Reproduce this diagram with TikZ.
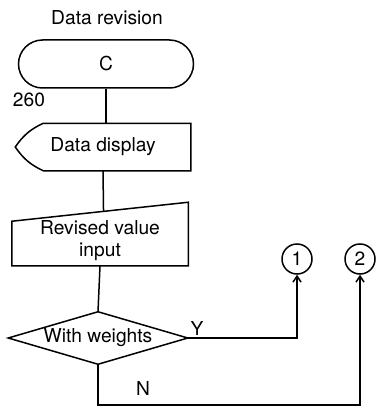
\documentclass[tikz,border=0pt]{standalone}
\usepackage{fontspec}
\setmainfont{TeX Gyre Heros}
\usetikzlibrary{arrows.meta, shapes.misc, calc}

\begin{document}
\begin{tikzpicture}[
  x=0.5pt, y=-0.5pt,
  font=\fontsize{9.6}{11}\selectfont,
  line width=0.75pt,
  terminal/.style={rounded rectangle, draw, minimum width=87.5pt,
                   minimum height=24pt, inner sep=0pt},
  box/.style={minimum width=87pt, inner sep=0pt, align=center},
  conn/.style={circle, draw, minimum size=15pt, inner sep=0pt},
  arrow/.style={-{Straight Barb[length=3pt,width=4pt]}},
]
  \useasboundingbox (0,0) rectangle (375,417);
  \node (title) at (107,18) {Data revision};
  \node[terminal] (term) at (106,64) {C};
  \node (num) at (29,100) {260};
  % display
  \node[box, minimum height=23pt] (disp) at (103,147) {Data display};
  \draw (disp.north east) -- (disp.south east) -- ([xshift=14pt]disp.south west)
    to[bend left=15] (disp.west) to[bend left=15] ([xshift=14pt]disp.north west) -- cycle;
  % manual input
  \node[box, minimum width=87.5pt, minimum height=31pt] (rev) at (100,234)
    {\rule{0pt}{14pt}Revised value\\input};
  \draw (rev.south west) -- (rev.south east) -- (rev.north east)
    -- ([yshift=-9.5pt]rev.north west) -- cycle;
  \coordinate (revtop) at ($([yshift=-9.5pt]rev.north west)!0.52!(rev.north east)$);
  % decision
  \node[box, minimum width=89pt, minimum height=25.5pt] (wt) at (98,338) {With weights};
  \draw (wt.west) -- (wt.north) -- (wt.east) -- (wt.south) -- cycle;
  % connectors
  \node[conn] (c1) at (297,259) {1};
  \node[conn] (c2) at (360,259) {2};
  \draw (term.south) -- (term.south |- disp.north);
  \draw (disp.south) -- (revtop);
  \draw (rev.south) -- (wt.north);
  \draw[arrow] (wt.east) -| (c1.south);
  \node (ylab) at (197,328) {Y};
  \coordinate (nturn) at (98,405);
  \draw[arrow] (wt.south) -- (nturn) -| (c2.south);
  \node (nlab) at (143,388) {N};
\end{tikzpicture}
\end{document}
